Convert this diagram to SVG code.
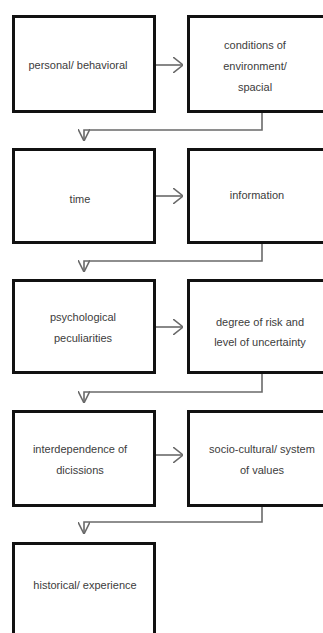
<svg xmlns="http://www.w3.org/2000/svg" width="323" height="633" viewBox="0 0 323 633">
<style>
.box{fill:#fff;stroke:#111;stroke-width:3}
.t{font-family:"Liberation Sans",Arial,sans-serif;font-size:11px;fill:#3c3c3c;text-anchor:middle}
.c{fill:none;stroke:#6a6a6a;stroke-width:1.6}
.h{marker-end:url(#ah)}
.d{marker-end:url(#ad)}
</style>
<defs>
<marker id="ah" viewBox="0 0 10 16" refX="10" refY="8" markerWidth="10" markerHeight="16" markerUnits="userSpaceOnUse" orient="auto">
<path d="M0,0 L10,8 L0,16" fill="none" stroke="#6a6a6a" stroke-width="1.6"/>
</marker>
<marker id="ad" viewBox="0 0 12 12" refX="12" refY="6" markerWidth="12" markerHeight="12" markerUnits="userSpaceOnUse" orient="auto">
<path d="M0,0 L12,6 L0,12" fill="none" stroke="#6a6a6a" stroke-width="1.6"/>
</marker>
</defs>
<rect width="323" height="633" fill="#fff"/>
<g id="n1"><rect class="box" x="13.5" y="16.5" width="141" height="95"/><text class="t" x="78" y="69">personal/ behavioral</text></g>
<g id="n2"><rect class="box" x="188.5" y="16.5" width="140" height="95"/><text class="t" x="255" y="49">conditions of</text><text class="t" x="255" y="70">environment/</text><text class="t" x="255" y="91">spacial</text></g>
<g id="n3"><rect class="box" x="13.5" y="149.5" width="141" height="93"/><text class="t" x="80" y="203">time</text></g>
<g id="n4"><rect class="box" x="188.5" y="149.5" width="140" height="93"/><text class="t" x="257" y="199">information</text></g>
<g id="n5"><rect class="box" x="13.5" y="280.5" width="141" height="92"/><text class="t" x="83" y="321">psychological</text><text class="t" x="83" y="342">peculiarities</text></g>
<g id="n6"><rect class="box" x="188.5" y="280.5" width="140" height="92"/><text class="t" x="260" y="326">degree of risk and</text><text class="t" x="260" y="346">level of uncertainty</text></g>
<g id="n7"><rect class="box" x="13.5" y="411.5" width="141" height="94"/><text class="t" x="80" y="453">interdependence of</text><text class="t" x="80" y="474">dicissions</text></g>
<g id="n8"><rect class="box" x="188.5" y="411.5" width="140" height="94"/><text class="t" x="262" y="453">socio-cultural/ system</text><text class="t" x="262" y="474">of values</text></g>
<g id="n9"><rect class="box" x="13.5" y="543.5" width="141" height="100"/><text class="t" x="85" y="589">historical/ experience</text></g>
<g id="connectors">
<path class="c h" d="M156,65 H183"/>
<path class="c h" d="M156,196 H183"/>
<path class="c h" d="M156,327 H183"/>
<path class="c h" d="M156,455 H183"/>
<path class="c d" d="M262,113 V130 H84 V141"/>
<path class="c d" d="M262,244 V261 H84 V272"/>
<path class="c d" d="M262,374 V392 H84 V403"/>
<path class="c d" d="M262,507 V522 H84 V534"/>
</g>
</svg>
